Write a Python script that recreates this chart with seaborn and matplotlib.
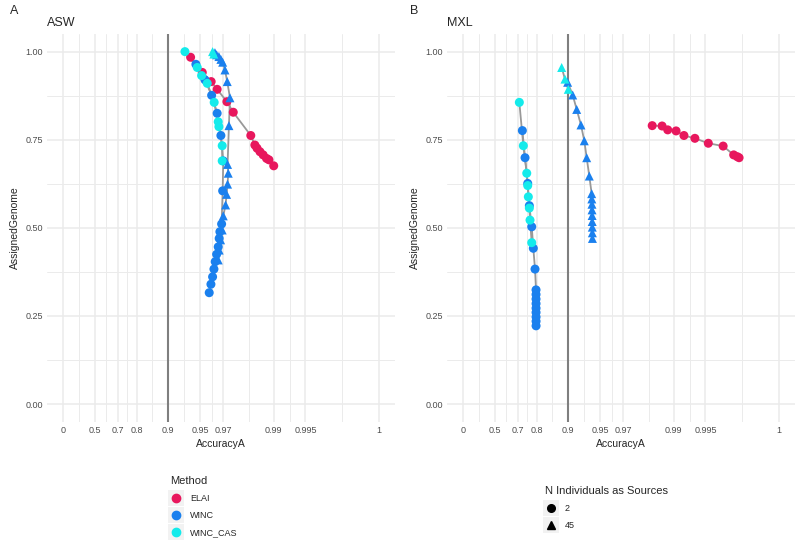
import numpy as np
import pandas as pd
import matplotlib
matplotlib.use("Agg")
import matplotlib.pyplot as plt
from matplotlib.lines import Line2D
from matplotlib.patches import Rectangle
import seaborn as sns

# ---- data (AccuracyA, AssignedGenome) ----
asw_elai_acc = [0.9386, 0.9524, 0.9608, 0.9656, 0.9722, 0.9758, 0.9835, 0.9849,
                0.9856, 0.9865, 0.9874, 0.9883, 0.9889, 0.9900]
asw_elai_gen = [0.984, 0.941, 0.915, 0.893, 0.858, 0.828, 0.762, 0.735,
                0.726, 0.716, 0.707, 0.697, 0.693, 0.676]

asw_winc2_acc = [0.9453, 0.9551, 0.9612, 0.9656, 0.9683, 0.9699, 0.9695, 0.9688,
                 0.9676, 0.9671, 0.9664, 0.9652, 0.9641, 0.9631, 0.9620, 0.9606, 0.9591]
asw_winc2_gen = [0.964, 0.920, 0.876, 0.825, 0.762, 0.690, 0.605, 0.511,
                 0.489, 0.470, 0.446, 0.425, 0.404, 0.383, 0.361, 0.340, 0.316]

asw_cas2_acc = [0.9305, 0.9469, 0.9517, 0.9573, 0.9633, 0.9664, 0.9669, 0.9692, 0.9692]
asw_cas2_gen = [1.000, 0.955, 0.932, 0.910, 0.856, 0.801, 0.787, 0.733, 0.690]

asw_winc45_acc = [0.9639, 0.9652, 0.9669, 0.9683, 0.9695, 0.9710, 0.9724, 0.9740,
                  0.9734, 0.9726, 0.9730, 0.9726, 0.9720, 0.9714, 0.9699, 0.9692,
                  0.9681, 0.9671, 0.9664]
asw_winc45_gen = [0.997, 0.991, 0.986, 0.978, 0.970, 0.948, 0.915, 0.869,
                  0.790, 0.680, 0.655, 0.624, 0.595, 0.565, 0.534, 0.494,
                  0.466, 0.437, 0.409]

asw_cas45_acc = [0.9620, 0.9630]
asw_cas45_gen = [1.000, 0.993]

mxl_elai_acc = [0.9840, 0.9871, 0.9886, 0.9905, 0.9920, 0.9937, 0.9953, 0.9966,
                0.9973, 0.9975, 0.9976]
mxl_elai_gen = [0.790, 0.789, 0.778, 0.775, 0.762, 0.754, 0.740, 0.732,
                0.707, 0.702, 0.699]

mxl_winc2_acc = [0.7274, 0.7430, 0.7576, 0.7660, 0.7779, 0.7855, 0.7933, 0.7978,
                 0.7978, 0.7978, 0.7979, 0.7979, 0.7979, 0.7980, 0.7980, 0.7980]
mxl_winc2_gen = [0.776, 0.699, 0.626, 0.563, 0.503, 0.442, 0.383, 0.324,
                 0.311, 0.298, 0.285, 0.272, 0.260, 0.247, 0.235, 0.222]

mxl_cas2_acc = [0.7089, 0.7333, 0.7524, 0.7576, 0.7608, 0.7660, 0.7695, 0.7779]
mxl_cas2_gen = [0.856, 0.733, 0.655, 0.620, 0.588, 0.556, 0.522, 0.458]

mxl_winc45_acc = [0.8986, 0.9092, 0.9168, 0.9242, 0.9295, 0.9331, 0.9368, 0.9400,
                  0.9402, 0.9404, 0.9405, 0.9406, 0.9407, 0.9408, 0.9409, 0.9410]
mxl_winc45_gen = [0.913, 0.877, 0.836, 0.792, 0.747, 0.699, 0.647, 0.597,
                  0.582, 0.567, 0.551, 0.535, 0.518, 0.502, 0.486, 0.470]

mxl_cas45_acc = [0.8845, 0.8925, 0.9000]
mxl_cas45_gen = [0.955, 0.922, 0.893]

x_breaks = [0, 0.5, 0.7, 0.8, 0.9, 0.95, 0.97, 0.99, 0.995, 1]
x_labels = ["0", "0.5", "0.7", "0.8", "0.9", "0.95", "0.97", "0.99", "0.995", "1"]
y_breaks = [0, 0.25, 0.5, 0.75, 1.0]
y_labels = ["0.00", "0.25", "0.50", "0.75", "1.00"]

methods = ["ELAI", "WINC", "WINC_CAS"]
palette = {"ELAI": "#E8175D", "WINC": "#1A80EE", "WINC_CAS": "#14EBEB"}
markers = {"2": "o", "45": "^"}


def acc_trans(a):
    # -log10 of the error, capped at 0.001 so accuracy 1 sits at 3
    return -np.log10(np.clip(1 - np.asarray(a, dtype=float), 1e-3, None))


def build(pop, groups):
    frames = []
    for method, n, acc, gen in groups:
        frames.append(pd.DataFrame({"pop": pop, "Method": method, "N": n,
                                    "acc": acc, "genome": gen,
                                    "grp": f"{method}_{n}"}))
    return pd.concat(frames, ignore_index=True)


df = pd.concat([
    build("ASW", [("ELAI", "2", asw_elai_acc, asw_elai_gen),
                  ("WINC", "2", asw_winc2_acc, asw_winc2_gen),
                  ("WINC_CAS", "2", asw_cas2_acc, asw_cas2_gen),
                  ("WINC", "45", asw_winc45_acc, asw_winc45_gen),
                  ("WINC_CAS", "45", asw_cas45_acc, asw_cas45_gen)]),
    build("MXL", [("ELAI", "2", mxl_elai_acc, mxl_elai_gen),
                  ("WINC", "2", mxl_winc2_acc, mxl_winc2_gen),
                  ("WINC_CAS", "2", mxl_cas2_acc, mxl_cas2_gen),
                  ("WINC", "45", mxl_winc45_acc, mxl_winc45_gen),
                  ("WINC_CAS", "45", mxl_cas45_acc, mxl_cas45_gen)]),
], ignore_index=True)
df["acc_t"] = acc_trans(df["acc"])

sns.set_theme(style="white")
plt.rcParams["font.family"] = ["Liberation Sans", "DejaVu Sans"]

fig = plt.figure(figsize=(8, 5.47), dpi=100)
W, H = 800, 547
grid_c = "#EBEBEB"

major_t = acc_trans(x_breaks)
minor_t = (major_t[:-1] + major_t[1:]) / 2

for i, (pop, tag) in enumerate([("ASW", "A"), ("MXL", "B")]):
    x0 = 47 + 400 * i
    ax = fig.add_axes([x0 / W, 1 - 421.7 / H, 348 / W, 387.7 / H])
    sub = df[df["pop"] == pop]

    for t in minor_t:
        ax.axvline(t, color=grid_c, lw=0.7, zorder=0)
    for t in major_t:
        ax.axvline(t, color=grid_c, lw=1.1, zorder=0)
    for y in np.arange(0.125, 1.0, 0.25):
        ax.axhline(y, color=grid_c, lw=0.7, zorder=0)
    for y in y_breaks:
        ax.axhline(y, color=grid_c, lw=1.1, zorder=0)

    ax.axvline(acc_trans(0.9), color="#7F7F7F", lw=1.5, zorder=1)

    sns.lineplot(data=sub, x="acc_t", y="genome", units="grp", estimator=None,
                 sort=False, color="#999999", lw=1.3, ax=ax, zorder=2,
                 legend=False)
    sns.scatterplot(data=sub, x="acc_t", y="genome", hue="Method",
                    hue_order=methods, palette=palette, style="N",
                    markers=markers, s=42, linewidth=0, ax=ax, zorder=3,
                    legend=False)

    ax.set_xlim(-0.15, 3.15)
    ax.set_ylim(-0.05, 1.05)
    ax.set_xticks(major_t)
    ax.set_xticklabels(x_labels)
    ax.set_yticks(y_breaks)
    ax.set_yticklabels(y_labels)
    ax.tick_params(length=0, labelsize=6.5, labelcolor="#4D4D4D", pad=3)
    ax.grid(False)
    for s in ax.spines.values():
        s.set_visible(False)
    ax.set_xlabel("AccuracyA", fontsize=7.5, labelpad=3)
    ax.set_ylabel("AssignedGenome", fontsize=7.5, labelpad=4)
    ax.set_title(pop, loc="left", fontsize=9, pad=6)
    fig.text((10 + 400 * i) / W, 1 - 11 / H, tag, fontsize=9, va="center")

# legends
meth_handles = [Line2D([], [], marker="o", ls="", color=palette[m], markersize=6)
                for m in methods]
leg1 = fig.legend(meth_handles, methods, title="Method", loc="upper left",
                  bbox_to_anchor=(162 / W, 1 - 468 / H), frameon=False,
                  fontsize=6.5, title_fontsize=8, alignment="left",
                  handletextpad=1.0, labelspacing=0.9, handlelength=1.2)
n_handles = [Line2D([], [], marker=markers[k], ls="", color="black", markersize=5.5)
             for k in ["2", "45"]]
leg2 = fig.legend(n_handles, ["2", "45"], title="N Individuals as Sources",
                  loc="upper left", bbox_to_anchor=(537 / W, 1 - 478 / H),
                  frameon=False, fontsize=6.5, title_fontsize=8,
                  alignment="left", handletextpad=1.0, labelspacing=0.9,
                  handlelength=1.2)

# light grey key backgrounds, as in the ggplot legend
fig.canvas.draw()
for leg in (leg1, leg2):
    for h in leg.legend_handles:
        bb = h.get_window_extent()
        cx, cy = (bb.x0 + bb.x1) / 2, (bb.y0 + bb.y1) / 2
        fig.patches.append(Rectangle(((cx - 8) / W, (cy - 8) / H), 16 / W, 16 / H,
                                     transform=fig.transFigure,
                                     facecolor="#F2F2F2", edgecolor="none",
                                     zorder=-1))

fig.savefig("out.png", dpi=100)
